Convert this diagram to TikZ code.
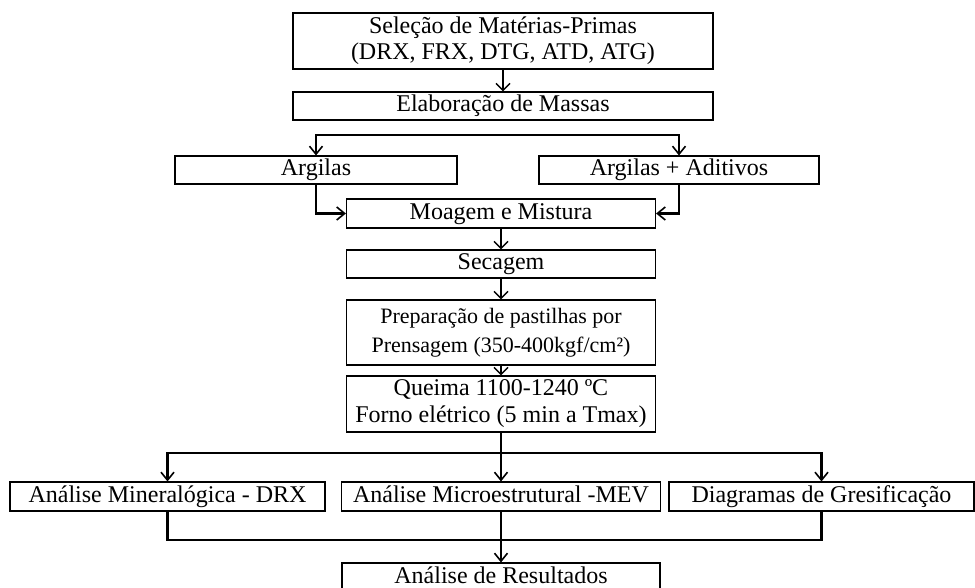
\documentclass[tikz,border=0pt]{standalone}
\usepackage{fontspec}
\setmainfont{Liberation Serif}
\usetikzlibrary{arrows.meta}

\tikzset{
    box/.style={draw, line width=1.1pt, inner sep=0pt, text height=17pt, text depth=5pt,
        font=\fontsize{24}{26}\selectfont},
    twoline/.style={box, align=center, text height=, text depth=},
    flow/.style={line width=1.4pt, -{Straight Barb[length=7pt, width=14pt, line width=1.4pt]}},
    bracket/.style={line width=2.4pt},
    tip/.tip={Straight Barb[length=8pt, width=13pt, line width=1.6pt]}
}

\begin{document}
\begin{tikzpicture}[x=1pt, y=-1pt]
    \useasboundingbox (0,0) rectangle (975,588);
    \clip (0,0) rectangle (975,588);

    % steps
    \node[twoline, minimum width=420pt, minimum height=56pt] (sel) at (503,41)
        {Seleção de Matérias-Primas\\(DRX, FRX, DTG, ATD, ATG)};
    \node[box, minimum width=420pt, minimum height=28pt] (ela) at (503,106) {Elaboração de Massas};
    \node[box, minimum width=282pt, minimum height=28pt] (arg) at (316,170) {Argilas};
    \node[box, minimum width=280pt, minimum height=28pt] (adi) at (679,170) {Argilas + Aditivos};
    \node[box, minimum width=309pt, minimum height=29pt] (moa) at (501,213.5) {Moagem e Mistura};
    \node[box, minimum width=309pt, minimum height=28pt] (sec) at (501,264) {Secagem};
    \node[twoline, minimum width=309pt, minimum height=65pt, font=\fontsize{22}{29}\selectfont] (pre) at (501,332.5)
        {Preparação de pastilhas por\\Prensagem (350-400kgf/cm²)};
    \node[twoline, minimum width=309pt, minimum height=56pt, font=\fontsize{24}{27}\selectfont] (que) at (501,404)
        {Queima 1100-1240 ºC\\Forno elétrico (5 min a Tmax)};

    % analyses
    \node[box, minimum width=315pt, minimum height=29pt] (min) at (167.5,496.5) {Análise Mineralógica - DRX};
    \node[box, minimum width=319pt, minimum height=29pt] (mic) at (501,496.5) {Análise Microestrutural -MEV};
    \node[box, minimum width=305pt, minimum height=29pt] (dia) at (821.5,496.5) {Diagramas de Gresificação};
    \node[box, minimum width=318pt, minimum height=29pt] (res) at (501,577.5) {Análise de Resultados};

    \coordinate (split) at (501,135);
    \coordinate (fan) at (501,453);
    \coordinate (join) at (501,540);

    % connectors
    \draw[flow] (sel) -- (ela);
    \draw[bracket, tip-tip] (arg) |- (split) -| (adi);
    \draw[bracket, -tip] (arg) |- (moa);
    \draw[bracket, -tip] (adi) |- (moa);
    \draw[flow] (moa) -- (sec);
    \draw[flow] (sec) -- (pre);
    \draw[flow] (pre) -- (que);
    \draw[bracket, -tip] (que) -- (mic);
    \draw[bracket, tip-tip] (min) |- (fan) -| (dia);
    \draw[bracket] (min) |- (join) -| (dia);
    \draw[bracket, -tip] (mic) -- (res);
\end{tikzpicture}
\end{document}
